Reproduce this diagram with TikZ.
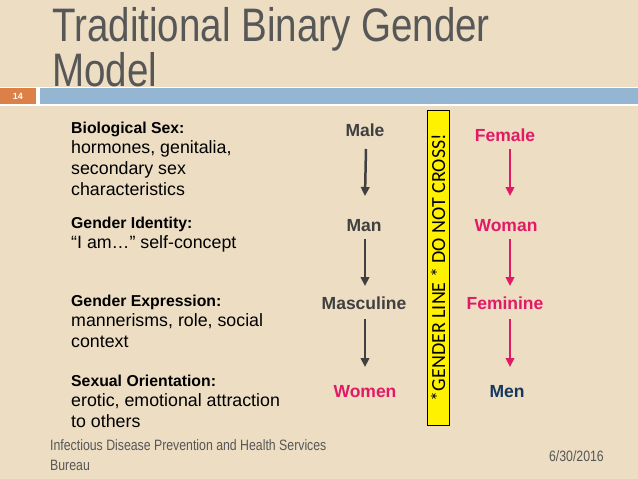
\documentclass[tikz,border=0pt]{standalone}
\usepackage{fontspec}
\setmainfont{Liberation Sans}
\newfontfamily\narrowfont[FakeStretch=0.82]{Liberation Sans}
\newfontfamily\linefont{Carlito}
\usetikzlibrary{arrows.meta}
\definecolor{slidebg}{RGB}{236,221,195}
\definecolor{barblue}{RGB}{148,182,210}
\definecolor{slideorange}{RGB}{221,128,71}
\definecolor{titlegray}{RGB}{87,87,87}
\definecolor{termgray}{RGB}{64,64,64}
\definecolor{genderpink}{RGB}{226,26,102}
\definecolor{mennavy}{RGB}{23,55,94}

\begin{document}
\begin{tikzpicture}[x=1pt,y=-1pt,
  head/.style={anchor=base west,inner sep=0pt,font=\fontsize{15.8}{19}\selectfont\bfseries},
  body/.style={anchor=base west,inner sep=0pt,align=left,font=\fontsize{17.8}{21}\selectfont},
  term/.style={anchor=base,inner sep=0pt,font=\fontsize{17.5}{21}\selectfont\bfseries},
  grayarrow/.style={draw=termgray,line width=2.5pt,-{Triangle[length=9pt,width=8.5pt]}},
  pinkarrow/.style={grayarrow,draw=genderpink,fill=genderpink}]
\useasboundingbox (0,0) rectangle (638,479);
\fill[slidebg] (0,0) rectangle (638,479);
\node[anchor=base west,inner sep=0pt,align=left,text=titlegray,
  font=\narrowfont\fontsize{47}{38}\selectfont] (title) at (52,86)
  {Traditional Binary Gender\\Model};
\fill[white] (0,86.5) rectangle (638,106);
\fill[slideorange] (0,88) rectangle (36,104);
\fill[barblue] (40,88) rectangle (638,104);
\node[text=white,font=\fontsize{9}{11}\selectfont\bfseries] (num) at (18,96) {14};

\node[head] (bio) at (71,133) {Biological Sex:};
\node[body] (biotext) at (71,195) {hormones, genitalia,\\secondary sex\\characteristics};
\node[head] (ident) at (71,228) {Gender Identity:};
\node[body] (identtext) at (71,248) {“I am…” self-concept};
\node[head] (expr) at (71,306) {Gender Expression:};
\node[body] (exprtext) at (71,347) {mannerisms, role, social\\context};
\node[head] (orient) at (71,386) {Sexual Orientation:};
\node[body] (orienttext) at (71,427) {erotic, emotional attraction\\to others};

\node[term,text=termgray] (male) at (365,136) {Male};
\node[term,text=termgray] (man) at (364,231) {Man};
\node[term,text=termgray] (masc) at (364,309) {Masculine};
\node[term,text=genderpink] (women) at (365,397) {Women};
\node[term,text=genderpink] (female) at (505,141) {Female};
\node[term,text=genderpink] (woman) at (506,231) {Woman};
\node[term,text=genderpink] (fem) at (505,309) {Feminine};
\node[term,text=mennavy] (men) at (507,397) {Men};

\draw[grayarrow] ([xshift=1pt,yshift=-13pt]male.base) -- ([xshift=1pt,yshift=35pt]man.base);
\draw[grayarrow] ([xshift=1pt,yshift=-8pt]man.base) -- ([xshift=1pt,yshift=23pt]masc.base);
\draw[grayarrow] ([xshift=1pt,yshift=-10pt]masc.base) -- ([yshift=30pt]women.base);
\draw[pinkarrow] ([xshift=5pt,yshift=-8pt]female.base) -- ([xshift=4pt,yshift=35pt]woman.base);
\draw[pinkarrow] ([xshift=4pt,yshift=-8pt]woman.base) -- ([xshift=5pt,yshift=23pt]fem.base);
\draw[pinkarrow] ([xshift=5pt,yshift=-10pt]fem.base) -- ([xshift=3pt,yshift=30pt]men.base);

\node[draw=black,line width=0.8pt,fill=yellow,rotate=90,minimum width=315pt,minimum height=22pt,
  inner sep=0pt,font=\linefont\fontsize{20}{24}\selectfont] (gline) at (438,267.5)
  {*GENDER LINE * DO NOT CROSS!};

\node[anchor=base west,inner sep=0pt,align=left,text=titlegray,
  font=\narrowfont\fontsize{15}{20}\selectfont] (bureau) at (50,470)
  {Infectious Disease Prevention and Health Services\\Bureau};
\node[anchor=base east,inner sep=0pt,text=titlegray,
  font=\narrowfont\fontsize{15}{18}\selectfont] (date) at (604,461) {6/30/2016};
\end{tikzpicture}
\end{document}
